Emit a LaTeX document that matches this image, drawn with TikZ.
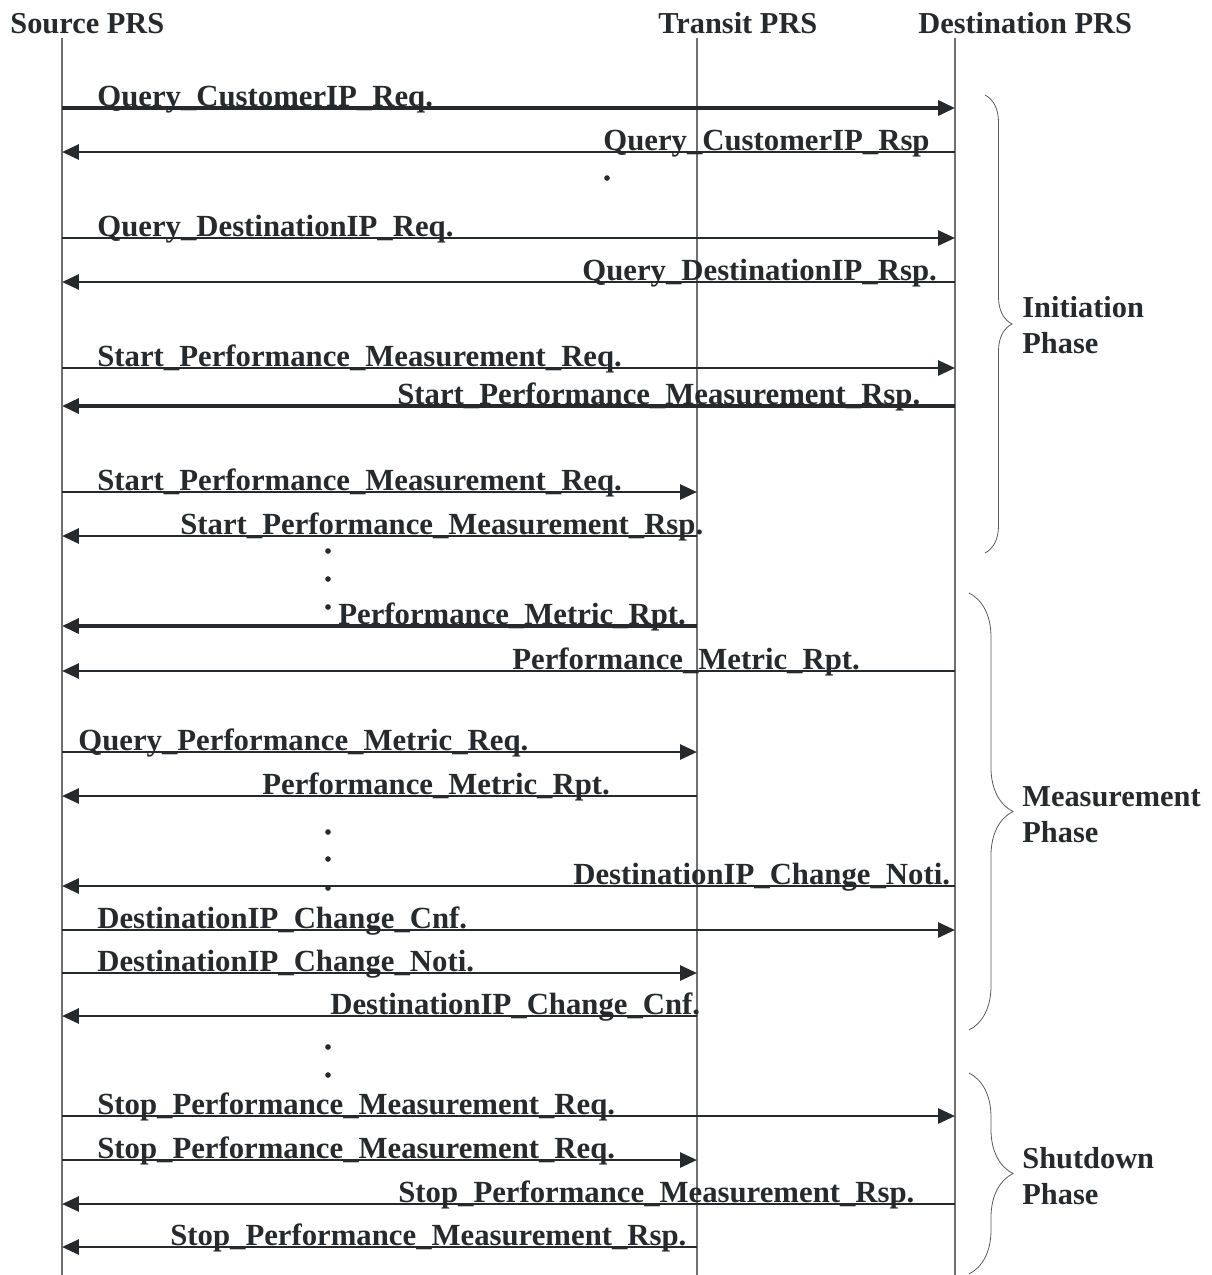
\documentclass[tikz,border=0pt]{standalone}
\usepackage{fontspec}
\setmainfont{Liberation Serif}
\usetikzlibrary{arrows.meta,decorations.pathreplacing}
\definecolor{ink}{RGB}{38,42,44}
\definecolor{life}{RGB}{110,112,114}
\begin{document}
\begin{tikzpicture}[x=0.02cm,y=-0.02cm,
  lifeline/.style={draw=life,line width=0.7pt},
  msg/.style={draw=ink,line width=1.6pt,-{Triangle[length=0.34cm,width=0.3cm]}},
  boldmsg/.style={msg,line width=2.1pt},
  lbl/.style={anchor=base west,inner sep=0pt,text=ink,font=\fontsize{17.5}{20}\selectfont\bfseries},
  head/.style={anchor=base west,inner sep=0pt,text=ink,font=\fontsize{17.3}{20}\selectfont\bfseries},
  phase/.style={anchor=base west,inner sep=0pt,text=ink,align=left,
    font=\fontsize{17.3}{20.3}\selectfont\bfseries},
  dotmark/.style={circle,fill=ink,inner sep=0pt,minimum size=3.2pt},
  phasebrace/.style={draw=life!80!black,line width=0.45pt,decorate}]
\useasboundingbox (0,0) rectangle (1212,1275);

% lifeline positions
\def\xS{62}
\def\xT{697}
\def\xD{955}

% headers
\node[head] (hS) at (10,33) {Source PRS};
\node[head] (hT) at (658,33) {Transit PRS};
\node[head] (hD) at (918,33) {Destination PRS};

% lifelines
\coordinate (sTop) at (\xS,38);  \coordinate (sBot) at (\xS,1275);
\coordinate (tTop) at (\xT,38);  \coordinate (tBot) at (\xT,1275);
\coordinate (dTop) at (\xD,38);  \coordinate (dBot) at (\xD,1275);
\draw[lifeline] (sTop) -- (sBot);
\draw[lifeline] (tTop) -- (tBot);
\draw[lifeline] (dTop) -- (dBot);

% one message: name, y, from x, to x, label x, label, style
\newcommand\prsmsg[7]{%
  \coordinate (#1a) at (#3,#2);
  \coordinate (#1b) at (#4,#2);
  \draw[#7] (#1a) -- (#1b);
  \node[lbl] (#1l) at (#5,#2-1.5) {#6};
}

% initiation phase
\prsmsg{m1}{108}{\xS}{\xD}{97}{Query\_CustomerIP\_Req.}{boldmsg}
\prsmsg{m2}{152}{\xD}{\xS}{603}{Query\_CustomerIP\_Rsp}{msg}
\node[dotmark] (d1) at (607,178) {};
\prsmsg{m3}{238}{\xS}{\xD}{97}{Query\_DestinationIP\_Req.}{msg}
\prsmsg{m4}{282}{\xD}{\xS}{582}{Query\_DestinationIP\_Rsp.}{msg}
\prsmsg{m5}{368}{\xS}{\xD}{97}{Start\_Performance\_Measurement\_Req.}{msg}
\prsmsg{m6}{406}{\xD}{\xS}{397}{Start\_Performance\_Measurement\_Rsp.}{boldmsg}
\prsmsg{m7}{492}{\xS}{\xT}{97}{Start\_Performance\_Measurement\_Req.}{msg}
\prsmsg{m8}{536}{\xT}{\xS}{180}{Start\_Performance\_Measurement\_Rsp.}{msg}
\node[dotmark] (d2) at (328,551) {};
\node[dotmark] (d3) at (328,579) {};
\node[dotmark] (d4) at (328,607) {};

% measurement phase
\prsmsg{m9}{626}{\xT}{\xS}{338}{Performance\_Metric\_Rpt.}{boldmsg}
\prsmsg{m10}{671}{\xD}{\xS}{512}{Performance\_Metric\_Rpt.}{msg}
\prsmsg{m11}{752}{\xS}{\xT}{78}{Query\_Performance\_Metric\_Req.}{msg}
\prsmsg{m12}{796}{\xT}{\xS}{262}{Performance\_Metric\_Rpt.}{msg}
\node[dotmark] (d5) at (328,832) {};
\node[dotmark] (d6) at (328,859) {};
\node[dotmark] (d7) at (328,888) {};
\prsmsg{m13}{886}{\xD}{\xS}{573}{DestinationIP\_Change\_Noti.}{msg}
\prsmsg{m14}{930}{\xS}{\xD}{97}{DestinationIP\_Change\_Cnf.}{msg}
\prsmsg{m15}{973}{\xS}{\xT}{97}{DestinationIP\_Change\_Noti.}{msg}
\prsmsg{m16}{1016}{\xT}{\xS}{330}{DestinationIP\_Change\_Cnf.}{msg}
\node[dotmark] (d8) at (328,1047) {};
\node[dotmark] (d9) at (328,1075) {};

% shutdown phase
\prsmsg{m17}{1116}{\xS}{\xD}{97}{Stop\_Performance\_Measurement\_Req.}{msg}
\prsmsg{m18}{1160}{\xS}{\xT}{97}{Stop\_Performance\_Measurement\_Req.}{msg}
\prsmsg{m19}{1204}{\xD}{\xS}{398}{Stop\_Performance\_Measurement\_Rsp.}{msg}
\prsmsg{m20}{1247}{\xT}{\xS}{170}{Stop\_Performance\_Measurement\_Rsp.}{msg}

% phase braces
\coordinate (b1t) at (985,95);   \coordinate (b1b) at (985,553);
\coordinate (b2t) at (969,593);  \coordinate (b2b) at (969,1030);
\coordinate (b3t) at (969,1073); \coordinate (b3b) at (969,1274);
\draw[phasebrace,decoration={brace,amplitude=0.54cm}] (b1t) -- (b1b);
\draw[phasebrace,decoration={brace,amplitude=0.88cm}] (b2t) -- (b2b);
\draw[phasebrace,decoration={brace,amplitude=0.88cm}] (b3t) -- (b3b);

% phase names (base anchor sits on the second line)
\node[phase] (p1) at (1022,353) {Initiation\\Phase};
\node[phase] (p2) at (1022,842) {Measurement\\Phase};
\node[phase] (p3) at (1022,1204) {Shutdown\\Phase};
\end{tikzpicture}
\end{document}
